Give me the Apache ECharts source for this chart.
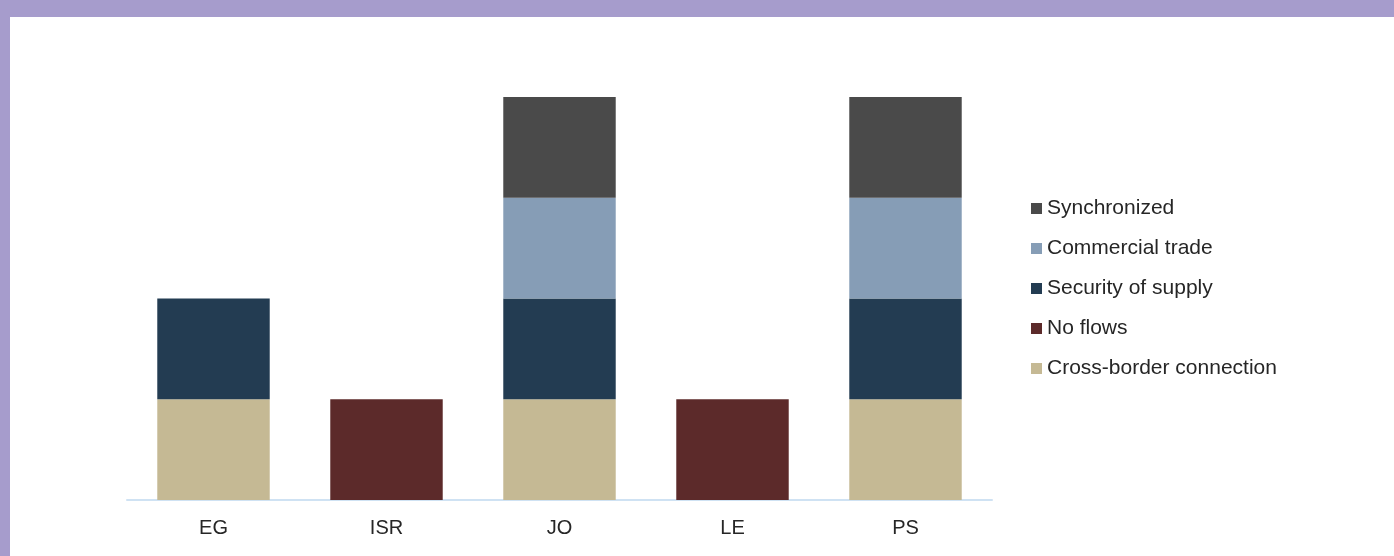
<!DOCTYPE html>
<html>
<head>
<meta charset="utf-8">
<script src="https://cdn.jsdelivr.net/npm/echarts@6/dist/echarts.min.js"></script>
<style>
html,body{margin:0;padding:0;background:#a69ccc;}
#wrap{position:absolute;left:0;top:0;width:1394px;height:556px;background:#a69ccc;}
#chart{position:absolute;left:10px;top:17px;width:1384px;height:539px;background:#fff;}
</style>
</head>
<body>
<div id="wrap"><div id="chart"></div></div>
<script>
const categories = ['EG', 'ISR', 'JO', 'LE', 'PS'];
const crossBorder = [1, 0, 1, 0, 1];
const noFlows = [0, 1, 0, 1, 0];
const securityOfSupply = [1, 0, 1, 0, 1];
const commercialTrade = [0, 0, 1, 0, 1];
const synchronized = [0, 0, 1, 0, 1];

const seriesDefs = [
  {name: 'Cross-border connection', data: crossBorder, color: '#c5b994'},
  {name: 'No flows', data: noFlows, color: '#5c2a2a'},
  {name: 'Security of supply', data: securityOfSupply, color: '#233c52'},
  {name: 'Commercial trade', data: commercialTrade, color: '#869db6'},
  {name: 'Synchronized', data: synchronized, color: '#4a4a4a'}
];

const chart = echarts.init(document.getElementById('chart'), null, {renderer: 'canvas'});
chart.setOption({
  animation: false,
  grid: {left: 117, right: 402, top: 80, bottom: 56},
  legend: {
    orient: 'vertical',
    left: 1016,
    top: 176,
    itemWidth: 11,
    itemHeight: 11,
    itemGap: 19,
    icon: 'rect',
    data: ['Synchronized', 'Commercial trade', 'Security of supply', 'No flows', 'Cross-border connection'],
    textStyle: {fontFamily: 'Liberation Sans, Arial, sans-serif', fontSize: 21, color: '#262626'}
  },
  xAxis: {
    type: 'category',
    data: categories,
    axisLine: {lineStyle: {color: '#cfe2f3', width: 2}},
    axisTick: {show: false},
    axisLabel: {fontFamily: 'Liberation Sans, Arial, sans-serif', fontSize: 20, color: '#262626', margin: 18}
  },
  yAxis: {
    type: 'value', min: 0, max: 4, interval: 1,
    show: false
  },
  series: seriesDefs.map(s => ({
    name: s.name,
    type: 'bar',
    stack: 'total',
    data: s.data.map(v => v === 0 ? null : v),
    barWidth: '65%',
    itemStyle: {color: s.color}
  }))
});
</script>
</body>
</html>
